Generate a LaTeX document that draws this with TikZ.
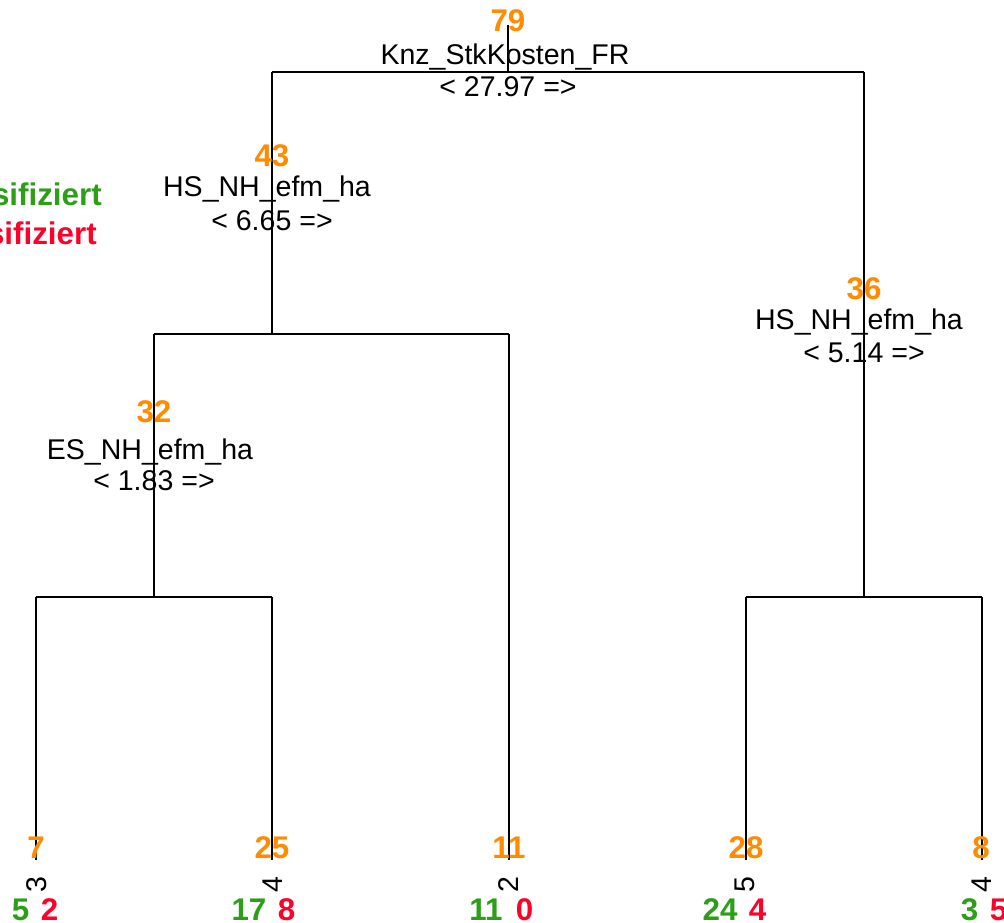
\documentclass[tikz,border=0pt]{standalone}
\usepackage{fontspec}
\setmainfont{Liberation Sans}
\definecolor{cntorange}{RGB}{255,140,0}
\definecolor{okgreen}{RGB}{44,158,24}
\definecolor{badred}{RGB}{255,0,40}
\tikzset{
  edge/.style={line width=1.4pt, black},
  cnt/.style={anchor=base, inner sep=0pt, text=cntorange,
    font=\fontsize{23.5}{26}\selectfont\bfseries},
  lbl/.style={anchor=base, inner sep=0pt,
    font=\fontsize{21.4}{24}\selectfont},
  leafid/.style={rotate=90, inner sep=0pt,
    font=\fontsize{21.4}{24}\selectfont},
  okn/.style={anchor=base, inner sep=0pt, text=okgreen,
    font=\fontsize{23.5}{26}\selectfont\bfseries},
  badn/.style={anchor=base, inner sep=0pt, text=badred,
    font=\fontsize{23.5}{26}\selectfont\bfseries}
}
\begin{document}
\begin{tikzpicture}[x=0.75pt,y=-0.75pt]
\useasboundingbox (0,0) rectangle (1004,923);
\clip (0,0) rectangle (1004,923);

% legend
\node[okn, anchor=base east] (legok) at (102,206) {klassifiziert};
\node[badn, anchor=base east] (legbad) at (97,245) {klassifiziert};

% branch points
\coordinate (rt) at (508,25);
\coordinate (rj) at (508,72);
\coordinate (a43) at (272,72);
\coordinate (j43) at (272,334);
\coordinate (a36) at (864,72);
\coordinate (j36) at (864,597);
\coordinate (a32) at (154,334);
\coordinate (j32) at (154,597);
\coordinate (t1) at (36,597);   \coordinate (b1) at (36,860);
\coordinate (t2) at (272,597);  \coordinate (b2) at (272,860);
\coordinate (t3) at (509,334);  \coordinate (b3) at (509,860);
\coordinate (t4) at (746,597);  \coordinate (b4) at (746,860);
\coordinate (t5) at (982,597);  \coordinate (b5) at (982,860);

% tree edges
\draw[edge] (rt) -- (rj);
\draw[edge] (a43) -- (a36);
\draw[edge] (a43) -- (j43);
\draw[edge] (a36) -- (j36);
\draw[edge] (a32) -- (t3);
\draw[edge] (a32) -- (j32);
\draw[edge] (t1) -- (t2);
\draw[edge] (t4) -- (t5);
\draw[edge] (t1) -- (b1);
\draw[edge] (t2) -- (b2);
\draw[edge] (t3) -- (b3);
\draw[edge] (t4) -- (b4);
\draw[edge] (t5) -- (b5);

% split nodes
\node[cnt] (c79) at (508,32) {79};
\node[lbl] (v79) at (505,65) {Knz\_StkKosten\_FR};
\node[lbl] (s79) at (508,97) {< 27.97 =>};

\node[cnt] (c43) at (272,167) {43};
\node[lbl] (v43) at (267,197) {HS\_NH\_efm\_ha};
\node[lbl] (s43) at (272,231) {< 6.65 =>};

\node[cnt] (c32) at (154,423) {32};
\node[lbl] (v32) at (150,460) {ES\_NH\_efm\_ha};
\node[lbl] (s32) at (154,491) {< 1.83 =>};

\node[cnt] (c36) at (864,300) {36};
\node[lbl] (v36) at (859,330) {HS\_NH\_efm\_ha};
\node[lbl] (s36) at (864,363) {< 5.14 =>};

% leaves: size, leaf number, correct / wrong
\node[cnt] (c7) at (36,858) {7};
\node[leafid] (id3) at (37,885) {3};
\node[okn] (g1) at (20.5,920) {5};
\node[badn] (r1) at (49.5,920) {2};

\node[cnt] (c25) at (272,858) {25};
\node[leafid] (id4a) at (273,885) {4};
\node[okn] (g2) at (249,920) {17};
\node[badn] (r2) at (286.5,920) {8};

\node[cnt] (c11) at (509,858) {11};
\node[leafid] (id2) at (509,885) {2};
\node[okn] (g3) at (486,920) {11};
\node[badn] (r3) at (524.5,920) {0};

\node[cnt] (c28) at (746,858) {28};
\node[leafid] (id5) at (745,885) {5};
\node[okn] (g4) at (720,920) {24};
\node[badn] (r4) at (757.5,920) {4};

\node[cnt] (c8) at (981,858) {8};
\node[leafid] (id4b) at (982,885) {4};
\node[okn] (g5) at (969.5,920) {3};
\node[badn] (r5) at (998.5,920) {5};
\end{tikzpicture}
\end{document}
